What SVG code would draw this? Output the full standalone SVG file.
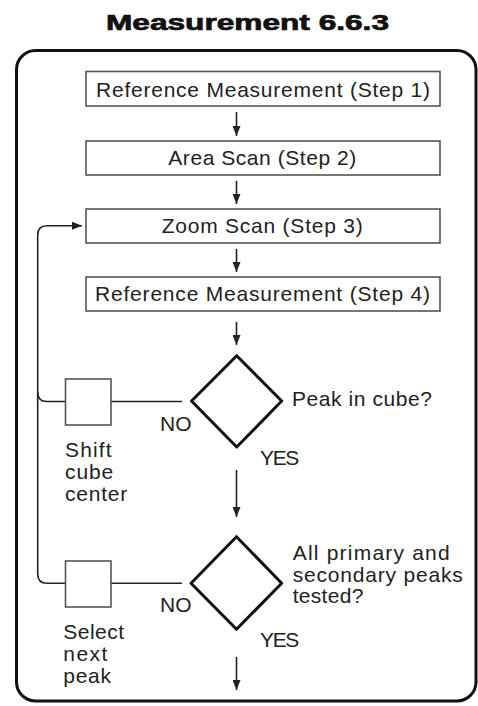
<svg xmlns="http://www.w3.org/2000/svg" width="478" height="706" viewBox="0 0 478 706">
<style>
  .t { font-family: "Liberation Sans", Arial, sans-serif; font-size: 21px; fill: #222; }
  .title { font-family: "Liberation Sans", Arial, sans-serif; font-size: 21.5px; font-weight: 900; fill: #111; stroke: #111; stroke-width: 0.7; }
  .box { fill: #fff; stroke: #555; stroke-width: 1.6; }
  .dia { fill: #fff; stroke: #111; stroke-width: 3; stroke-linejoin: round; }
  .con { fill: none; stroke: #222; stroke-width: 1.6; }
  .arr { fill: none; stroke: #222; stroke-width: 1.6; marker-end: url(#ah); }
</style>
<defs>
  <marker id="ah" markerUnits="userSpaceOnUse" markerWidth="10" markerHeight="8" refX="10" refY="4" orient="auto">
    <path d="M0,0 L10,4 L0,8 z" fill="#222"/>
  </marker>
</defs>
<rect width="478" height="706" fill="#fff"/>
<text class="title" x="106" y="29.5" textLength="283" lengthAdjust="spacingAndGlyphs">Measurement 6.6.3</text>
<rect x="16.5" y="50.5" width="459.5" height="650.5" rx="19" fill="none" stroke="#111" stroke-width="3"/>

<g id="connectors">
  <line class="arr" x1="236.5" y1="112" x2="236.5" y2="136"/>
  <line class="arr" x1="236.5" y1="181" x2="236.5" y2="204"/>
  <line class="arr" x1="236.5" y1="249" x2="236.5" y2="272"/>
  <line class="arr" x1="236.5" y1="322" x2="236.5" y2="345"/>
  <line class="arr" x1="236.5" y1="470" x2="236.5" y2="517"/>
  <line class="arr" x1="236.5" y1="657" x2="236.5" y2="690"/>
  <path class="arr" d="M65.5,583.3 H47 Q37.7,583.3 37.7,574 V235 Q37.7,225.7 47,225.7 H82"/>
  <path class="con" d="M37.7,392 Q37.7,401.5 47,401.5 H65.5"/>
  <line class="con" x1="111" y1="401.5" x2="182" y2="401.5"/>
  <line class="con" x1="111" y1="583.3" x2="182" y2="583.3"/>
</g>

<g id="step1">
  <rect class="box" x="86" y="71.5" width="354" height="34.5"/>
  <text class="t" x="96" y="97" textLength="334">Reference Measurement (Step 1)</text>
</g>
<g id="step2">
  <rect class="box" x="86" y="141" width="354" height="34"/>
  <text class="t" x="168.3" y="165.3" textLength="188">Area Scan (Step 2)</text>
</g>
<g id="step3">
  <rect class="box" x="86" y="209" width="354" height="34"/>
  <text class="t" x="161.7" y="233.3" textLength="201">Zoom Scan (Step 3)</text>
</g>
<g id="step4">
  <rect class="box" x="86" y="277" width="354" height="34"/>
  <text class="t" x="95" y="301.3" textLength="335">Reference Measurement (Step 4)</text>
</g>

<g id="decision1">
  <path class="dia" d="M236.7,355.7 L281.7,401 L236.7,447 L191.5,401 Z"/>
  <text class="t" x="292" y="406" textLength="140">Peak in cube?</text>
  <text class="t" x="160" y="430.7" textLength="31.7">NO</text>
  <text class="t" x="260" y="465" textLength="39.3">YES</text>
</g>
<g id="shift">
  <rect class="box" x="65.5" y="379" width="45.5" height="46"/>
  <text class="t" x="65" y="457.3" textLength="46.7">Shift</text>
  <text class="t" x="65" y="479.3" textLength="48.3">cube</text>
  <text class="t" x="65" y="500.7" textLength="62.3">center</text>
</g>

<g id="decision2">
  <path class="dia" d="M236.5,536.7 L281.7,583.3 L236.5,629.3 L191,583.3 Z"/>
  <text class="t" x="292.7" y="560" textLength="157">All primary and</text>
  <text class="t" x="292.7" y="581.7" textLength="170">secondary peaks</text>
  <text class="t" x="292.7" y="603.3" textLength="70.7">tested?</text>
  <text class="t" x="160" y="612.3" textLength="31.7">NO</text>
  <text class="t" x="260" y="646.7" textLength="39.3">YES</text>
</g>
<g id="select">
  <rect class="box" x="65.5" y="561" width="45.5" height="46"/>
  <text class="t" x="63.3" y="639" textLength="60.7">Select</text>
  <text class="t" x="63.3" y="661.3" textLength="44">next</text>
  <text class="t" x="63.3" y="682.7" textLength="47.7">peak</text>
</g>
</svg>
